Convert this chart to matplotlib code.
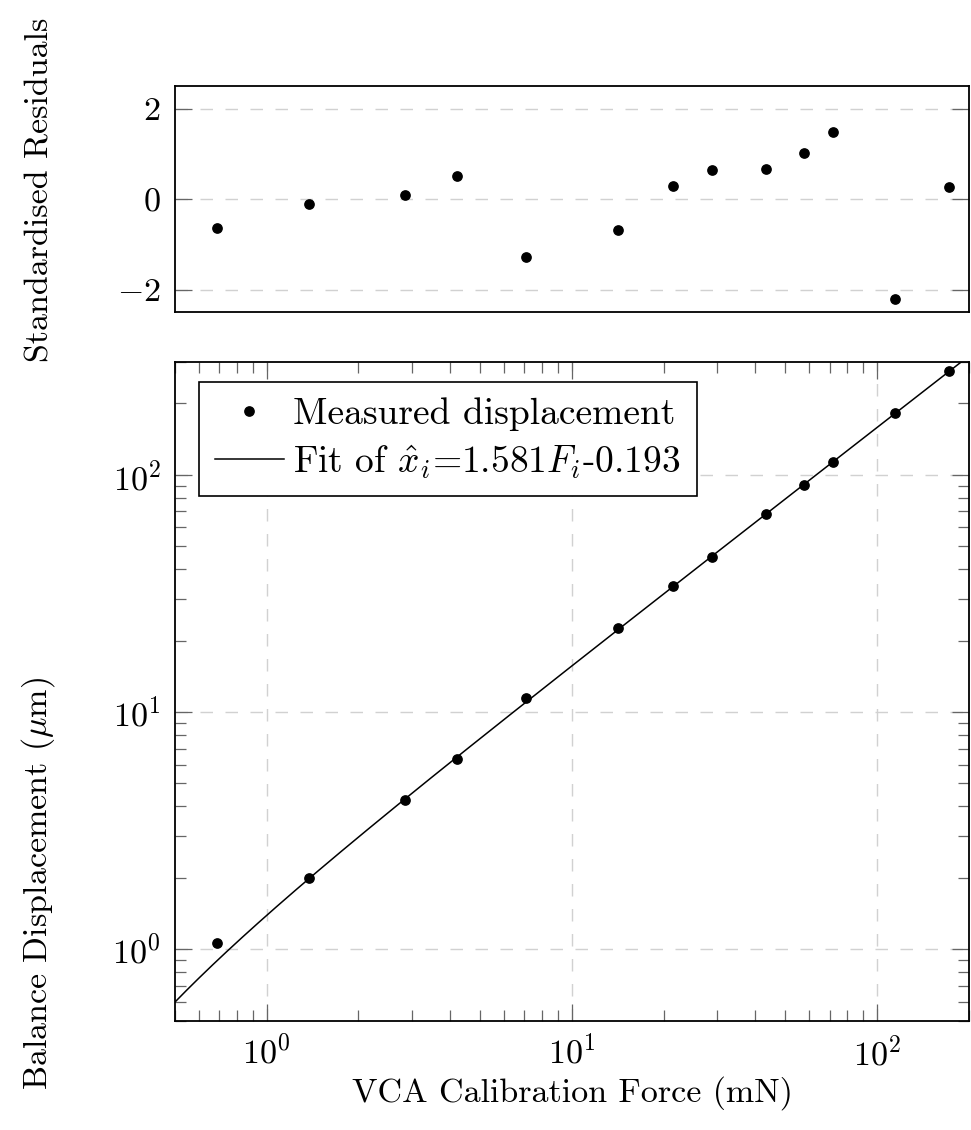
import numpy as np
import matplotlib
matplotlib.use("Agg")
import matplotlib.pyplot as plt

# data
force = [0.688, 1.373, 2.847, 4.222, 7.07, 14.22, 21.48, 28.75, 43.2, 57.6, 71.97, 114.4, 172.2]
displacement = [1.067, 2.006, 4.27, 6.34, 11.46, 22.5, 33.8, 45.1, 68.1, 90.8, 113.5, 182.0, 272.9]
residuals = [-0.63, -0.10, 0.10, 0.52, -1.28, -0.68, 0.29, 0.65, 0.66, 1.02, 1.49, -2.21, 0.27]
slope = 1.581
intercept = -0.193

plt.rcParams['font.family'] = 'serif'
plt.rcParams['font.serif'] = ['cmr10']
plt.rcParams['mathtext.fontset'] = 'cm'
plt.rcParams['axes.formatter.use_mathtext'] = True
plt.rcParams['axes.unicode_minus'] = True
plt.rcParams['font.size'] = 24.5
plt.rcParams['xtick.direction'] = 'in'
plt.rcParams['ytick.direction'] = 'in'

W, H = 971, 1130
fig = plt.figure(figsize=(W / 100, H / 100), dpi=100)

left = 174.7 / W
width = 794 / W
ax_top = fig.add_axes([left, 1 - 312.3 / H, width, 226 / H])
ax = fig.add_axes([left, 1 - 1020.7 / H, width, 659.2 / H])

xlim = (0.5, 200)

'''
Residuals panel
'''
ax_top.plot(force, residuals, 'o', color='black', ms=6.7)
ax_top.set_xscale('log')
ax_top.set_xlim(*xlim)
ax_top.set_ylim(-2.5, 2.5)
ax_top.set_yticks([-2, 0, 2])
ax_top.tick_params(axis='x', which='both', bottom=False, top=False, labelbottom=False)
ax_top.tick_params(axis='y', which='major', left=True, right=True,
                   length=12, width=0.9, color='0.4', pad=10)
ax_top.grid(True, axis='y', color='0.82', linestyle=(0, (9, 9)), linewidth=1.0)

'''
Main log-log panel
'''
F = np.logspace(np.log10(xlim[0]), np.log10(xlim[1]), 400)
ax.plot(force, displacement, 'o', color='black', ms=6.7, label='Measured displacement', zorder=3)
ax.plot(F, slope * F + intercept, color='black', lw=1.1,
        label=r'Fit of $\hat{x}_i$=1.581$F_i$-0.193')
ax.set_xscale('log')
ax.set_yscale('log')
ax.set_xlim(*xlim)
ax.set_ylim(0.5, 300)
ax.tick_params(which='both', top=True, right=True, color='0.4', width=0.9)
ax.tick_params(which='major', length=12, pad=10)
ax.tick_params(which='minor', length=8)
ax.grid(True, which='major', color='0.82', linestyle=(0, (9, 9)), linewidth=1.0)

for a in (ax_top, ax):
    for s in a.spines.values():
        s.set_linewidth(1.3)
    a.set_axisbelow(True)

leg = ax.legend(loc='upper left', bbox_to_anchor=(0.0306, 0.969), borderaxespad=0,
                numpoints=1, fancybox=False, framealpha=1, edgecolor='black',
                fontsize=27, handlelength=1.85, handletextpad=0.25,
                labelspacing=0.3, borderpad=0.42)
leg.get_frame().set_linewidth(1.2)

fig.text(40 / W, 1 - 190 / H, 'Standardised Residuals', rotation=90, ha='center', va='center')
fig.text(38 / W, 1 - 883 / H, r'Balance Displacement ($\mu$m)', rotation=90, ha='center', va='center')
fig.text(572 / W, 1 - 1093 / H, 'VCA Calibration Force (mN)', ha='center', va='center')

fig.savefig('out.png', dpi=100)
